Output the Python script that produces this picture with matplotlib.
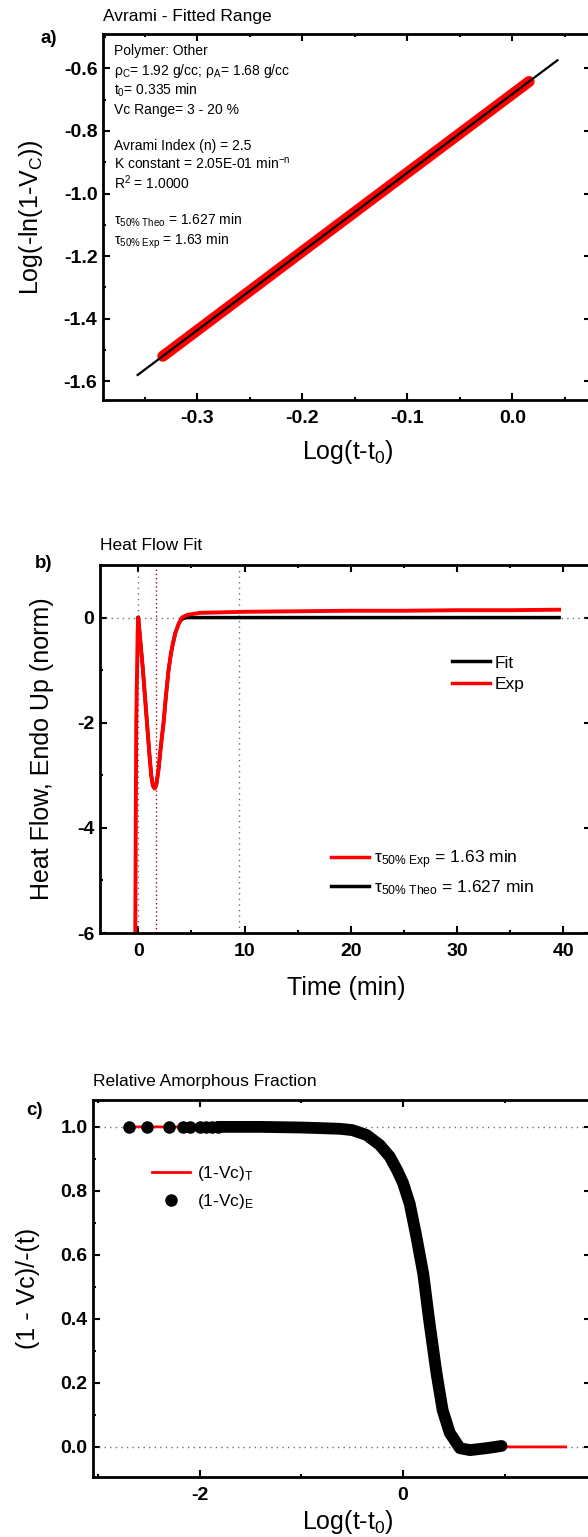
import numpy as np
import matplotlib
matplotlib.use("Agg")
import matplotlib.pyplot as plt
from matplotlib.lines import Line2D
from matplotlib.ticker import MultipleLocator

plt.rcParams['font.family'] = ['Liberation Sans', 'DejaVu Sans']
plt.rcParams['mathtext.fontset'] = 'custom'
plt.rcParams['mathtext.rm'] = 'Liberation Sans'
plt.rcParams['mathtext.it'] = 'Liberation Sans:italic'
plt.rcParams['mathtext.bf'] = 'Liberation Sans:bold'
plt.rcParams['axes.unicode_minus'] = False

# ---- a) Avrami fitted range ----
avrami_fit_x = [-0.357, 0.043]
avrami_fit_y = [-1.580, -0.574]
avrami_exp_x = [-0.333, -0.25, -0.15, -0.05, 0.016]
avrami_exp_y = [-1.520, -1.311, -1.059, -0.808, -0.642]

info_lines = [
    'Polymer: Other',
    'ρ$_\\mathrm{C}$= 1.92 g/cc; ρ$_\\mathrm{A}$= 1.68 g/cc',
    't$_\\mathrm{0}$= 0.335 min',
    'Vc Range= 3 - 20 %',
    'Avrami Index (n) = 2.5',
    'K constant = 2.05E-01 min$^\\mathrm{-n}$',
    'R$^\\mathrm{2}$ = 1.0000',
    'τ$_\\mathrm{50\\%\\ Theo}$ = 1.627 min',
    'τ$_\\mathrm{50\\%\\ Exp}$ = 1.63 min',
]
info_y = [0.9426, 0.8893, 0.8347, 0.7814, 0.6831, 0.6325, 0.5765, 0.4795, 0.4235]

# ---- b) heat flow ----
hf_exp_t = [-0.30, -0.28, -0.19, -0.05, 0.0, 0.2, 0.44, 0.82, 1.05, 1.22, 1.38, 1.54,
            1.7, 1.9, 2.1, 2.38, 2.6, 2.85, 3.05, 3.2, 3.48, 3.8, 4.1, 4.6, 5.8, 8,
            10, 15, 20, 25, 30, 35, 39.6]
hf_exp_y = [-7.0, -6.0, -2.0, -0.2, 0.0, -0.45, -1.0, -2.0, -2.6, -3.0, -3.2, -3.25,
            -3.18, -2.9, -2.5, -2.0, -1.5, -1.0, -0.72, -0.55, -0.3, -0.12, 0.0, 0.05,
            0.09, 0.10, 0.11, 0.12, 0.13, 0.13, 0.14, 0.14, 0.15]
hf_fit_t = [0.0, 0.2, 0.44, 0.82, 1.05, 1.22, 1.38, 1.54, 1.7, 1.9, 2.1, 2.38, 2.6,
            2.85, 3.05, 3.2, 3.48, 3.8, 4.1, 4.5, 5.0, 39.6]
hf_fit_y = [0.0, -0.45, -1.0, -2.0, -2.6, -3.0, -3.2, -3.25, -3.18, -2.9, -2.5, -2.0,
            -1.5, -1.0, -0.72, -0.55, -0.3, -0.12, -0.03, 0.0, 0.0, 0.0]
vline_gray = [0.0, 9.5]
tau_exp = 1.63

# ---- c) relative amorphous fraction ----
# separate early points (visible as single markers) and the dense part of the curve
frac_e_x_sparse = [-2.70, -2.52, -2.30, -2.16, -2.10, -2.00, -1.94, -1.88, -1.82]
frac_e_y_sparse = [1.0, 1.0, 1.0, 1.0, 1.0, 1.0, 1.0, 1.0, 1.0]
frac_e_x = [-1.82, -1.6, -1.4, -1.2, -1.0, -0.8, -0.62, -0.5, -0.36, -0.23, -0.13, -0.06,
            0.0, 0.066, 0.13, 0.20, 0.26, 0.33, 0.39, 0.46, 0.56, 0.66, 0.82, 0.97]
frac_e_y = [1.0, 1.0, 1.0, 0.999, 0.998, 0.996, 0.994, 0.99, 0.975, 0.944, 0.907, 0.866,
            0.825, 0.76, 0.66, 0.54, 0.39, 0.23, 0.115, 0.044, -0.004, -0.01, -0.004, 0.003]
frac_t_x = [-2.7, -1.0, -0.62, -0.36, -0.23, -0.13, -0.06, 0.0, 0.066, 0.13, 0.2, 0.26,
            0.33, 0.39, 0.46, 0.56, 0.7, 0.99, 1.6]
frac_t_y = [1.0, 1.0, 0.994, 0.975, 0.944, 0.907, 0.866, 0.825, 0.76, 0.66, 0.54, 0.39,
            0.23, 0.115, 0.04, 0.005, 0.0, 0.0, 0.0]

W, H = 588, 1537
fig = plt.figure(figsize=(W / 100, H / 100), dpi=100)


def px_axes(left, top, right, bottom):
    return fig.add_axes([left / W, 1 - bottom / H, (right - left) / W, (bottom - top) / H])


def style_axes(ax):
    for s in ax.spines.values():
        s.set_linewidth(2)
    ax.tick_params(which='both', direction='in', top=True, right=True, width=1.5,
                   labelsize=14)
    ax.tick_params(which='major', length=5)
    ax.tick_params(which='minor', length=2.5)
    ax.tick_params(axis='x', pad=7)
    ax.tick_params(axis='y', pad=4)
    for lab in ax.get_xticklabels() + ax.get_yticklabels():
        lab.set_fontweight('bold')


dot = dict(color='#707070', linestyle=(0, (1, 3)), linewidth=1)

# a)
ax1 = px_axes(103, 34, 591, 400)
ax1.plot(avrami_exp_x, avrami_exp_y, color='red', lw=8, solid_capstyle='round')
ax1.plot(avrami_fit_x, avrami_fit_y, color='black', lw=1.6)
ax1.set_xlim(-0.39, 0.075)
ax1.set_ylim(-1.66, -0.49)
ax1.xaxis.set_major_locator(MultipleLocator(0.1))
ax1.xaxis.set_minor_locator(MultipleLocator(0.05))
ax1.yaxis.set_major_locator(MultipleLocator(0.2))
ax1.yaxis.set_minor_locator(MultipleLocator(0.1))
style_axes(ax1)
ax1.set_xlabel('Log(t-t$_\\mathrm{0}$)', fontsize=18, va='center')
ax1.xaxis.set_label_coords(0.501, -0.142)
ax1.set_ylabel('Log(-ln(1-V$_\\mathrm{C}$))', fontsize=18, va='center')
ax1.yaxis.set_label_coords(-0.148, 0.5)
for txt, yy in zip(info_lines, info_y):
    ax1.text(0.0226, yy, txt, transform=ax1.transAxes, fontsize=10, va='baseline')
ax1.text(0, 1.049, 'Avrami - Fitted Range', transform=ax1.transAxes, fontsize=12.5,
         va='center')
ax1.text(-0.111, 0.989, 'a)', transform=ax1.transAxes, fontsize=13.5,
         fontweight='bold', ha='center', va='center')

# b)
ax2 = px_axes(100, 565, 591, 933)
ax2.axhline(0, **dot)
for xv in vline_gray:
    ax2.axvline(xv, **dot)
ax2.axvline(tau_exp, color='#a01010', linestyle=(0, (1, 2)), linewidth=1)
ax2.plot(hf_fit_t, hf_fit_y, color='black', lw=2.5)
ax2.plot(hf_exp_t, hf_exp_y, color='red', lw=2.8)
ax2.set_xlim(-3.6, 42.6)
ax2.set_ylim(-6, 1)
ax2.xaxis.set_major_locator(MultipleLocator(10))
ax2.xaxis.set_minor_locator(MultipleLocator(5))
ax2.yaxis.set_major_locator(MultipleLocator(2))
ax2.yaxis.set_minor_locator(MultipleLocator(1))
style_axes(ax2)
ax2.set_xlabel('Time (min)', fontsize=18, va='center')
ax2.xaxis.set_label_coords(0.502, -0.149)
ax2.set_ylabel('Heat Flow, Endo Up (norm)', fontsize=18, va='center')
ax2.yaxis.set_label_coords(-0.118, 0.5)
ax2.text(0, 1.054, 'Heat Flow Fit', transform=ax2.transAxes, fontsize=12.5, va='center')
ax2.text(-0.114, 1.005, 'b)', transform=ax2.transAxes, fontsize=13.5,
         fontweight='bold', ha='center', va='center')
leg1 = ax2.legend([Line2D([], [], color='black', lw=2.5), Line2D([], [], color='red', lw=2.5)],
                  ['Fit', 'Exp'], loc='center left', bbox_to_anchor=(0.716, 0.705),
                  frameon=False, fontsize=12.5, handlelength=2.2, handletextpad=0.3,
                  labelspacing=0.35, borderpad=0, borderaxespad=0)
ax2.add_artist(leg1)
ax2.legend([Line2D([], [], color='red', lw=2.5), Line2D([], [], color='black', lw=2.5)],
           ['τ$_\\mathrm{50\\%\\ Exp}$ = 1.63 min', 'τ$_\\mathrm{50\\%\\ Theo}$ = 1.627 min'],
           loc='center left', bbox_to_anchor=(0.47, 0.164), frameon=False,
           fontsize=12.5, handlelength=2.2, handletextpad=0.3, labelspacing=0.4,
           borderpad=0, borderaxespad=0)

# c)
ax3 = px_axes(93, 1100, 591, 1477)
ax3.axhline(1, **dot)
ax3.axhline(0, **dot)
ax3.plot(frac_t_x, frac_t_y, color='red', lw=2)
ax3.plot(frac_e_x, frac_e_y, color='black', lw=8.5, solid_capstyle='round',
         solid_joinstyle='round')
ax3.plot(frac_e_x_sparse, frac_e_y_sparse, 'o', color='black', ms=8)
ax3.set_xlim(-3.05, 1.85)
ax3.set_ylim(-0.094, 1.084)
ax3.xaxis.set_major_locator(MultipleLocator(2))
ax3.xaxis.set_minor_locator(MultipleLocator(1))
ax3.yaxis.set_major_locator(MultipleLocator(0.2))
ax3.yaxis.set_minor_locator(MultipleLocator(0.1))
style_axes(ax3)
ax3.set_xlabel('Log(t-t$_\\mathrm{0}$)', fontsize=18, va='center')
ax3.xaxis.set_label_coords(0.511, -0.119)
ax3.set_ylabel('(1 - Vc)/-(t)', fontsize=18, va='center')
ax3.yaxis.set_label_coords(-0.13, 0.5)
ax3.text(0, 1.048, 'Relative Amorphous Fraction', transform=ax3.transAxes,
         fontsize=12.5, va='center')
ax3.text(-0.117, 0.973, 'c)', transform=ax3.transAxes, fontsize=13.5,
         fontweight='bold', ha='center', va='center')
ax3.legend([Line2D([], [], color='red', lw=2),
            Line2D([], [], color='black', marker='o', ms=8, ls='none')],
           ['(1-Vc)$_\\mathrm{T}$', '(1-Vc)$_\\mathrm{E}$'], loc='center left',
           bbox_to_anchor=(0.119, 0.768), frameon=False, fontsize=12.5,
           handlelength=2.2, handletextpad=0.4, labelspacing=0.5, borderpad=0,
           borderaxespad=0)

fig.savefig('out.png', dpi=100)
